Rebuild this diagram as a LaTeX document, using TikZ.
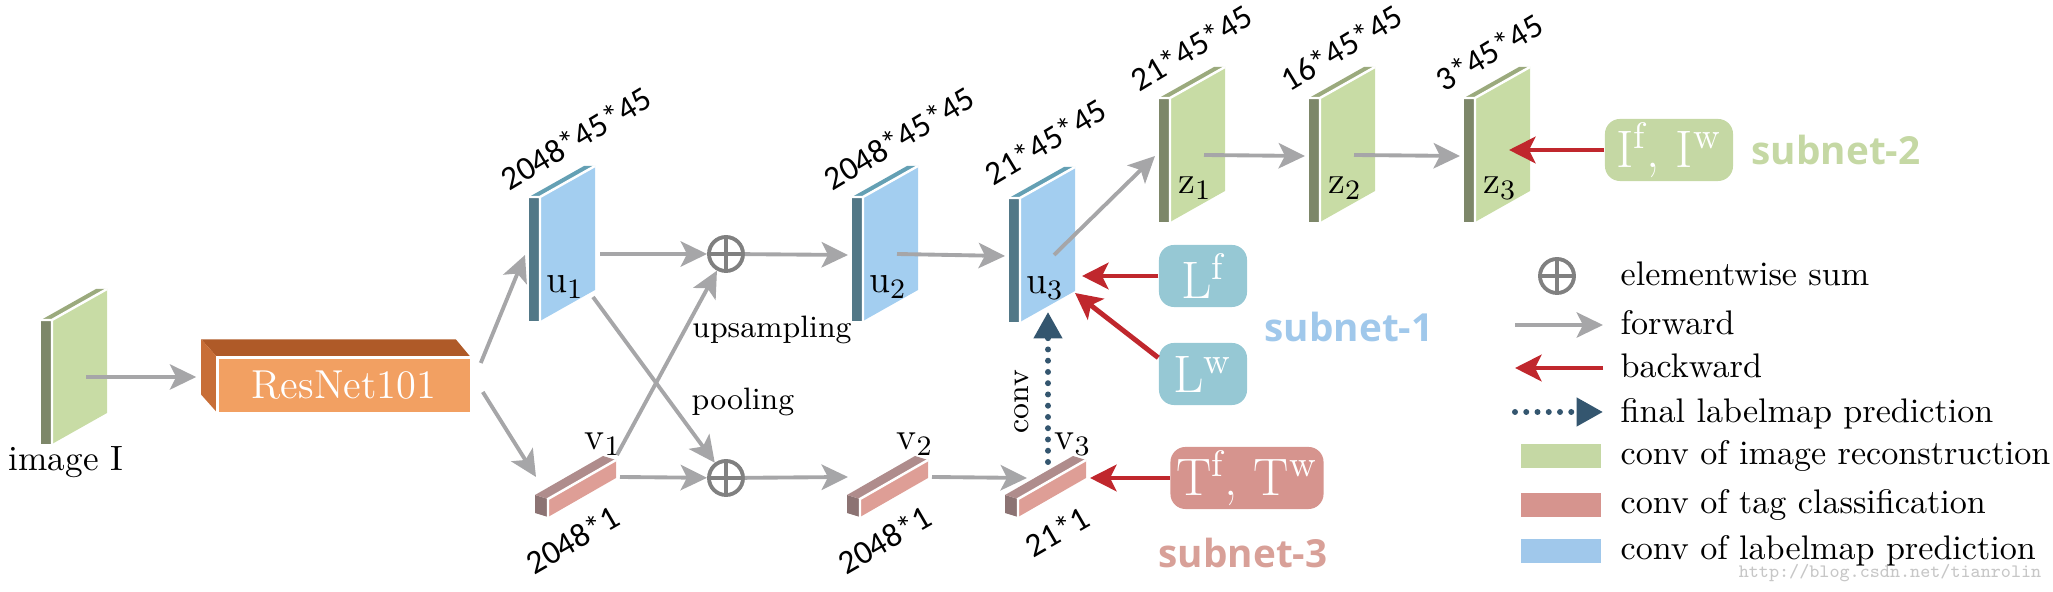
\documentclass[tikz,border=0pt]{standalone}
\usepackage{fontspec}
\newfontfamily\dimfont{Carlito}
\newfontfamily\netfont{Open Sans}
\usetikzlibrary{arrows.meta}

\definecolor{bluF}{HTML}{A3CEF0}
\definecolor{bluS}{HTML}{527887}
\definecolor{bluT}{HTML}{64A0B4}
\definecolor{grnF}{HTML}{C8DCA5}
\definecolor{grnS}{HTML}{7D8769}
\definecolor{grnT}{HTML}{9BAA7D}
\definecolor{barF}{HTML}{DE9E96}
\definecolor{barT}{HTML}{AF8C8C}
\definecolor{barC}{HTML}{8C7373}
\definecolor{resF}{HTML}{F2A062}
\definecolor{resT}{HTML}{AF5A28}
\definecolor{resS}{HTML}{C86E37}
\definecolor{fwdgray}{HTML}{A6A6A8}
\definecolor{bwdred}{HTML}{C0272D}
\definecolor{predblue}{HTML}{34566F}
\definecolor{sumgray}{HTML}{808080}
\definecolor{lossblu}{HTML}{96C8D4}
\definecolor{lossgrn}{HTML}{C5D8A4}
\definecolor{lossred}{HTML}{D6948E}
\definecolor{netblu}{HTML}{A0C8EB}
\definecolor{netred}{HTML}{D8A098}

% slab: name, top-left corner of the front face, palette
\newcommand{\featslab}[3]{%
  \begin{scope}[shift={#2}]
    \fill[#3S] (-11,0) rectangle (0,124);
    \fill[#3T] (-11,0) -- (0,0) -- (55,-31) -- (44,-31) -- cycle;
    \fill[#3F] (0,0) -- (55,-31) -- (55,93) -- (0,124) -- cycle;
    \draw[white, line width=0.7pt] (-11,0) -- (0,0) -- (55,-31) (0,0) -- (0,124);
    \coordinate (#1-l) at (-15,58);
    \coordinate (#1-c) at (34,57);
    \coordinate (#1-r) at (60,57);
    \coordinate (#1-e) at (62,78);
    \coordinate (#1-se) at (55,95);
    \coordinate (#1-br) at (53,100);
    \coordinate (#1-bm) at (28,114);
    \coordinate (#1-t) at (25,90);
    \coordinate (#1-d) at (-37,-15);
  \end{scope}}

% bar: name, bottom-left corner of the front face
\newcommand{\featbar}[2]{%
  \begin{scope}[shift={#2}]
    \fill[barC] (-13,-4) -- (0,0) -- (0,-18) -- (-13,-22) -- cycle;
    \fill[barT] (-13,-22) -- (0,-18) -- (68,-57) -- (55,-61) -- cycle;
    \fill[barF] (0,0) -- (0,-18) -- (68,-57) -- (68,-39) -- cycle;
    \draw[white, line width=0.7pt] (0,0) -- (0,-18) -- (68,-57);
    \coordinate (#1-l) at (-12,-40);
    \coordinate (#1-r) at (72,-40);
    \coordinate (#1-t) at (69,-62);
    \coordinate (#1-m) at (30,-55);
    \coordinate (#1-n) at (55,-73);
    \coordinate (#1-d) at (69,-3);
  \end{scope}}

\begin{document}
\begin{tikzpicture}[x=0.01cm, y=-0.01cm,
  fwd/.style={draw=fwdgray, line width=1.1pt, -{Stealth[length=7.5pt, width=7.2pt, inset=1.8pt]}},
  bwd/.style={draw=bwdred, line width=1.4pt, -{Stealth[length=7.5pt, width=7.5pt, inset=1.8pt]}},
  pred/.style={draw=predblue, line width=1.7pt, dash pattern=on 0pt off 3.2pt, line cap=round,
    -{Triangle[length=7.5pt, width=7.8pt]}},
  sumnode/.style={circle, draw=sumgray, line width=1.1pt, minimum size=0.34cm, inner sep=0pt,
    path picture={\draw[sumgray, line width=1.1pt]
      (path picture bounding box.north) -- (path picture bounding box.south)
      (path picture bounding box.west) -- (path picture bounding box.east);}},
  resbox/.style={fill=resF, text=white, minimum width=2.52cm, minimum height=0.54cm, inner sep=0pt,
    font=\fontsize{11.5}{13}\selectfont},
  lossbox/.style={rounded corners=0.15cm, text=white, minimum height=0.62cm, inner sep=0pt,
    font=\fontsize{15}{17}\selectfont},
  dimlbl/.style={font=\dimfont\fontsize{9.5}{11}\selectfont, inner sep=0pt, rotate=31, anchor=west},
  barlbl/.style={font=\dimfont\fontsize{9.5}{11}\selectfont, inner sep=0pt, rotate=30, anchor=east},
  sublbl/.style={font=\fontsize{11}{13}\selectfont, inner sep=0pt},
  txt/.style={font=\fontsize{8.8}{10}\selectfont, inner sep=0pt},
  lgtxt/.style={font=\fontsize{9.7}{11}\selectfont, inner sep=0pt, anchor=base west},
  netlbl/.style={font=\netfont\bfseries\fontsize{11}{13}\selectfont, inner sep=0pt},
  swatch/.style={minimum width=0.79cm, minimum height=0.24cm, inner sep=0pt},
  wmark/.style={font=\ttfamily\fontsize{5.4}{6}\selectfont, text=black!22, inner sep=0pt, anchor=base east}]
  \useasboundingbox (0,0) rectangle (2053,592);

  % input and backbone
  \featslab{img}{(52,320)}{grn}
  \node[font=\fontsize{10}{12}\selectfont, inner sep=0pt] (img-name) at (66,462) {image I};
  \node[resbox] (res) at (344,385) {ResNet101};
  \fill[resT] (res.north west) -- (res.north east) -- ++(-15,-18) -- ([shift={(-16,-18)}]res.north west) -- cycle;
  \fill[resS] (res.north west) -- ([shift={(-16,-18)}]res.north west) -- ([shift={(-16,-18)}]res.south west) -- (res.south west) -- cycle;
  \draw[white, line width=0.8pt] (res.south west) -- (res.north west) -- (res.north east);
  \coordinate (res-in) at ([shift={(-21,-11)}]res.west);
  \coordinate (res-a) at ([shift={(10,-22)}]res.east);
  \coordinate (res-b) at ([shift={(12,7)}]res.east);

  % subnet-1 and subnet-2 maps
  \featslab{u1}{(540,197)}{blu}
  \featslab{u2}{(863,197)}{blu}
  \featslab{u3}{(1020,198)}{blu}
  \featslab{z1}{(1170,98)}{grn}
  \featslab{z2}{(1320,98)}{grn}
  \featslab{z3}{(1475,98)}{grn}
  \node[sublbl] (u1-name) at (u1-t) {$\mathrm{u}_1$};
  \node[sublbl] (u2-name) at (u2-t) {$\mathrm{u}_2$};
  \node[sublbl] (u3-name) at (u3-t) {$\mathrm{u}_3$};
  \node[sublbl] (z1-name) at (z1-t) {$\mathrm{z}_1$};
  \node[sublbl] (z2-name) at (z2-t) {$\mathrm{z}_2$};
  \node[sublbl] (z3-name) at (z3-t) {$\mathrm{z}_3$};
  \node[dimlbl] (u1-dim) at (u1-d) {2048*45*45};
  \node[dimlbl] (u2-dim) at (u2-d) {2048*45*45};
  \node[dimlbl] (u3-dim) at ([shift={(4,-6)}]u3-d) {21*45*45};
  \node[dimlbl] (z1-dim) at (z1-d) {21*45*45};
  \node[dimlbl] (z2-dim) at (z2-d) {16*45*45};
  \node[dimlbl] (z3-dim) at (z3-d) {3*45*45};

  % subnet-3 vectors
  \featbar{v1}{(548,517)}
  \featbar{v2}{(860,517)}
  \featbar{v3}{(1018,517)}
  \node[sublbl] (v1-name) at (v1-n) {$\mathrm{v}_1$};
  \node[sublbl] (v2-name) at (v2-n) {$\mathrm{v}_2$};
  \node[sublbl] (v3-name) at (v3-n) {$\mathrm{v}_3$};
  \node[barlbl] (v1-dim) at (v1-d) {2048*1};
  \node[barlbl] (v2-dim) at (v2-d) {2048*1};
  \node[barlbl] (v3-dim) at (v3-d) {21*1};
  \coordinate (v3-in) at (1027,478);

  \node[sumnode] (s1) at (726,254) {};
  \node[sumnode] (s2) at (726,478) {};
  \node[txt] (up) at (772,330) {upsampling};
  \node[txt] (pool) at (743,402) {pooling};
  \node[txt, rotate=90] (conv) at (1022,402) {conv};

  % forward
  \draw[fwd] (img-c) -- (img-c -| res-in);
  \draw[fwd] (res-a) -- (u1-l);
  \draw[fwd] (res-b) -- (v1-l);
  \draw[fwd] (u1-r) -- (s1);
  \draw[fwd] (s1) -- (u2-l);
  \draw[fwd] (u2-c) -- (u3-l);
  \draw[fwd] (u3-c) -- (z1-l);
  \draw[fwd] (z1-c) -- (z2-l);
  \draw[fwd] (z2-c) -- (z3-l);
  \draw[fwd] (v1-t) -- (s1);
  \draw[fwd] (u1-br) -- (s2);
  \draw[fwd] (v1-r) -- (s2);
  \draw[fwd] (s2) -- (v2-l);
  \draw[fwd] (v2-r) -- (v3-in);
  \draw[pred] (v3-m) -- (u3-bm);

  % losses
  \node[lossbox, fill=lossblu, minimum width=0.88cm] (lf) at (1203,276) {$\mathrm{L}^{\mathrm{f}}$};
  \node[lossbox, fill=lossblu, minimum width=0.88cm] (lw) at (1203,374) {$\mathrm{L}^{\mathrm{w}}$};
  \node[lossbox, fill=lossred, minimum width=1.53cm] (tf) at (1247,478) {$\mathrm{T}^{\mathrm{f}}$, $\mathrm{T}^{\mathrm{w}}$};
  \node[lossbox, fill=lossgrn, minimum width=1.28cm] (if) at (1669,150) {$\mathrm{I}^{\mathrm{f}}$, $\mathrm{I}^{\mathrm{w}}$};
  \draw[bwd] (lf) -- (lf -| u3-e);
  \draw[bwd] (lw.160) -- (u3-se);
  \draw[bwd] (tf) -- (tf -| v3-r);
  \draw[bwd] (if) -- (if -| z3-c);
  \node[netlbl, text=netblu] (net1) at (1349,327) {subnet-1};
  \node[netlbl, text=lossgrn] (net2) at (1836,150) {subnet-2};
  \node[netlbl, text=netred] (net3) at (1243,553) {subnet-3};

  % legend
  \node[sumnode] (lg-sum) at (1557,276) {};
  \node[lgtxt] (lg-sum-t) at (1620,286) {elementwise sum};
  \coordinate (lg-fa) at (1515,325);
  \coordinate (lg-fb) at (1603,325);
  \draw[fwd] (lg-fa) -- (lg-fb);
  \node[lgtxt] (lg-fwd-t) at (1620,335) {forward};
  \coordinate (lg-ba) at (1603,368);
  \coordinate (lg-bb) at (1515,368);
  \draw[bwd] (lg-ba) -- (lg-bb);
  \node[lgtxt] (lg-bwd-t) at (1620,378) {backward};
  \coordinate (lg-pa) at (1515,412);
  \coordinate (lg-pb) at (1603,412);
  \draw[pred] (lg-pa) -- (lg-pb);
  \node[lgtxt] (lg-pred-t) at (1620,423) {final labelmap prediction};
  \node[swatch, fill=lossgrn] (lg-g) at (1561,456) {};
  \node[lgtxt] (lg-g-t) at (1620,465) {conv of image reconstruction};
  \node[swatch, fill=lossred] (lg-r) at (1561,505) {};
  \node[lgtxt] (lg-r-t) at (1620,514) {conv of tag classification};
  \node[swatch, fill=netblu] (lg-b) at (1561,551) {};
  \node[lgtxt] (lg-b-t) at (1620,560) {conv of labelmap prediction};
  \node[wmark] (wm) at (2042,578) {http://blog.csdn.net/tianrolin};
\end{tikzpicture}
\end{document}
